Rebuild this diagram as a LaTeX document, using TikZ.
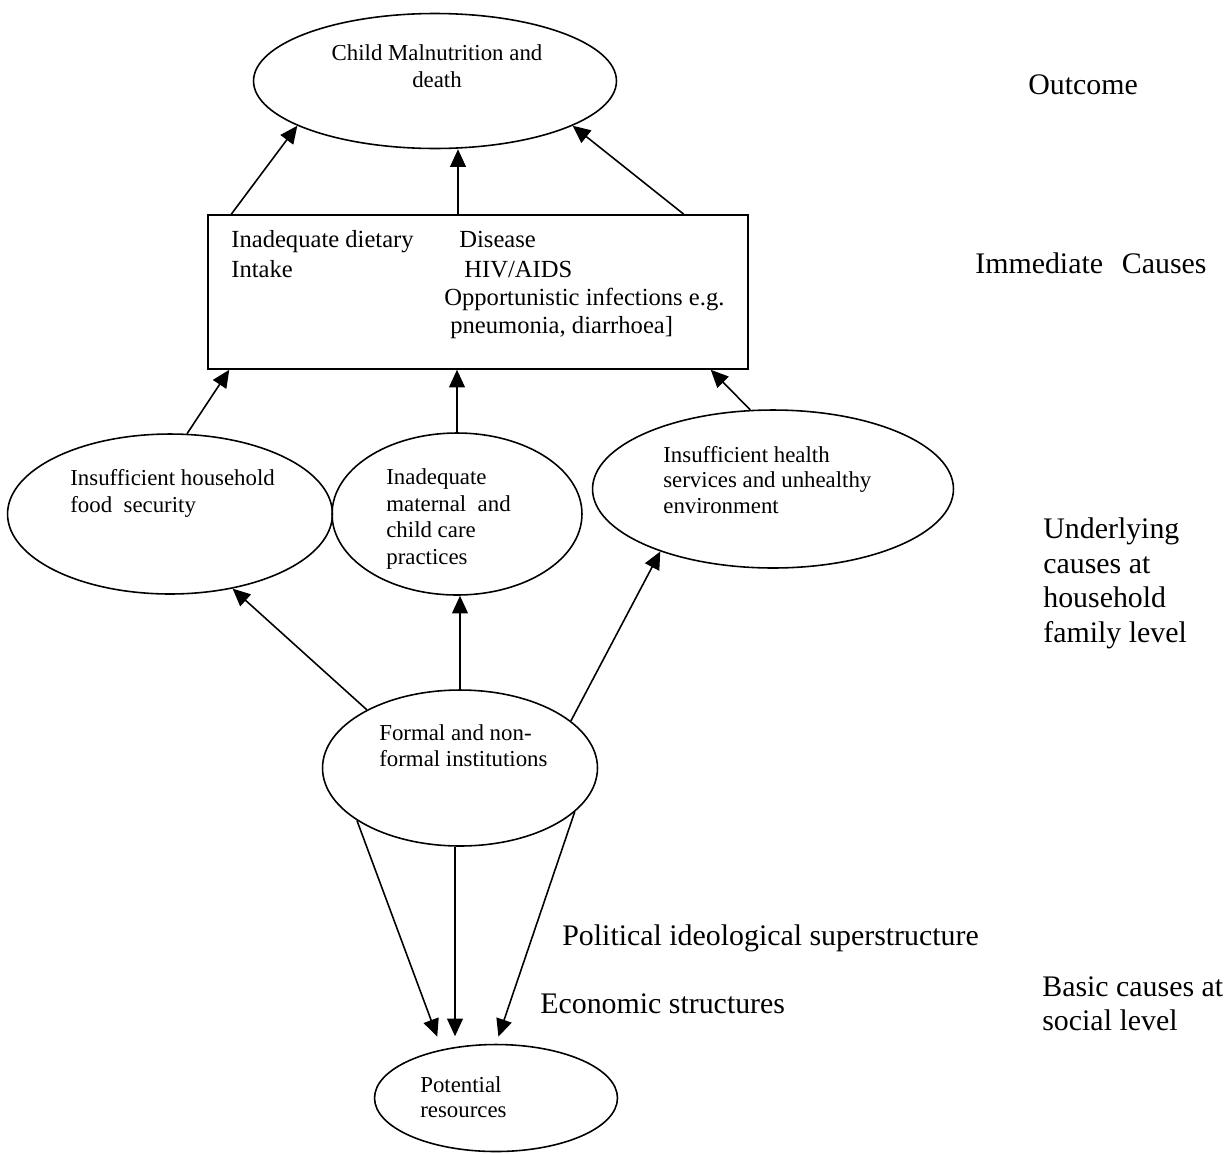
\documentclass[tikz,border=0pt]{standalone}
\usepackage{fontspec}
\setmainfont{Liberation Serif}
\usetikzlibrary{shapes.geometric,arrows.meta}
\tikzset{
  cause/.style={draw, ellipse, line width=0.9pt, inner sep=0pt},
  box/.style={draw, rectangle, line width=0.9pt, inner sep=0pt},
  txt/.style={inner sep=0pt, align=left, anchor=base west, font=\fontsize{13}{15.3}\selectfont},
  boxtxt/.style={inner sep=0pt, anchor=base west, font=\fontsize{14}{16.5}\selectfont},
  level/.style={inner sep=0pt, align=left, anchor=base west, font=\fontsize{17}{19.6}\selectfont},
  arr/.style={line width=0.9pt, -{Triangle[length=10pt,width=9pt]}},
}

\begin{document}
\begin{tikzpicture}[x=0.02cm, y=-0.02cm]
  \fill[white] (0,0) rectangle (1229,1153);
  \useasboundingbox (0,0) rectangle (1229,1153);

  \node[cause, minimum width=7.26cm, minimum height=2.7cm] (malnut) at (435,81) {};
  \node[txt, align=center, anchor=base] (malnuttxt) at (437,87) {Child Malnutrition and\\death};

  \node[box, minimum width=10.8cm, minimum height=3.08cm] (immediate) at (478,292) {};
  \node[boxtxt] (diettxt) at (231,247) {Inadequate dietary};
  \node[boxtxt] (intaketxt) at (231,277) {Intake};
  \node[boxtxt] (diseasetxt) at (459,247) {Disease};
  \node[boxtxt] (hivtxt) at (464,277) {HIV/AIDS};
  \node[boxtxt] (oitxt) at (444,305) {Opportunistic infections e.g.};
  \node[boxtxt] (pneutxt) at (450,333) {pneumonia, diarrhoea]};

  \node[cause, minimum width=6.5cm, minimum height=3.2cm] (hh) at (170,514) {};
  \node[txt] (hhtxt) at (70,512) {Insufficient household\\food\ \ security};
  \node[cause, minimum width=5cm, minimum height=3.24cm] (mat) at (457,514) {};
  \node[txt, font=\fontsize{13}{15}\selectfont] (mattxt) at (386,564) {Inadequate\\maternal\ \ and\\child care\\practices};
  \node[cause, minimum width=7.22cm, minimum height=3.16cm] (hlth) at (773,489) {};
  \node[txt, font=\fontsize{13}{14.5}\selectfont] (hlthtxt) at (663,513) {Insufficient health\\services and unhealthy\\environment};

  \node[cause, minimum width=5.5cm, minimum height=3.12cm] (inst) at (460,768) {};
  \node[txt, font=\fontsize{13}{14.7}\selectfont] (insttxt) at (379,766) {Formal and non-\\formal institutions};
  \node[cause, minimum width=4.86cm, minimum height=2.14cm] (pot) at (496,1098) {};
  \node[txt, font=\fontsize{13}{14.2}\selectfont] (pottxt) at (420,1117) {Potential\\resources};

  \node[level] (outcome) at (1028,94) {Outcome};
  \node[level] (immcause) at (975,273) {Immediate\hspace{0.63em}Causes};
  \node[level] (underlying) at (1043,642) {Underlying\\causes at\\household\\family level};
  \node[level] (political) at (562,945) {Political ideological superstructure};
  \node[level] (economic) at (540,1013) {Economic structures};
  \node[level, font=\fontsize{17}{19.3}\selectfont] (basic) at (1042,1030) {Basic causes at\\social level};

  \draw[arr] ([xshift=0.48cm]immediate.north west) -- (malnut.198);
  \draw[arr] ([xshift=-0.4cm]immediate.north) -- ([xshift=-0.4cm]immediate.north |- malnut.south);
  \draw[arr] ([xshift=-1.3cm]immediate.north east) -- (malnut.-18);

  \draw[arr] (hh.78) -- ([xshift=0.44cm]immediate.south west);
  \draw[arr] (mat.north) -- (mat.north |- immediate.south);
  \draw[arr] (hlth.106) -- ([xshift=-0.76cm]immediate.south east);

  \draw[arr] (inst.148) -- (hh.-50);
  \draw[arr] (inst.north) -- (inst.north |- mat.south);
  \draw[arr] (inst.23) -- (hlth.209);

  \draw[arr, shorten >=0.27cm] (inst.207) -- (pot.138);
  \draw[arr, shorten >=0.15cm] ([xshift=-0.1cm]inst.south) -- ([xshift=-0.1cm]inst.south |- pot.north);
  \draw[arr, shorten >=0.15cm] (inst.-21) -- (pot.north);
\end{tikzpicture}
\end{document}
